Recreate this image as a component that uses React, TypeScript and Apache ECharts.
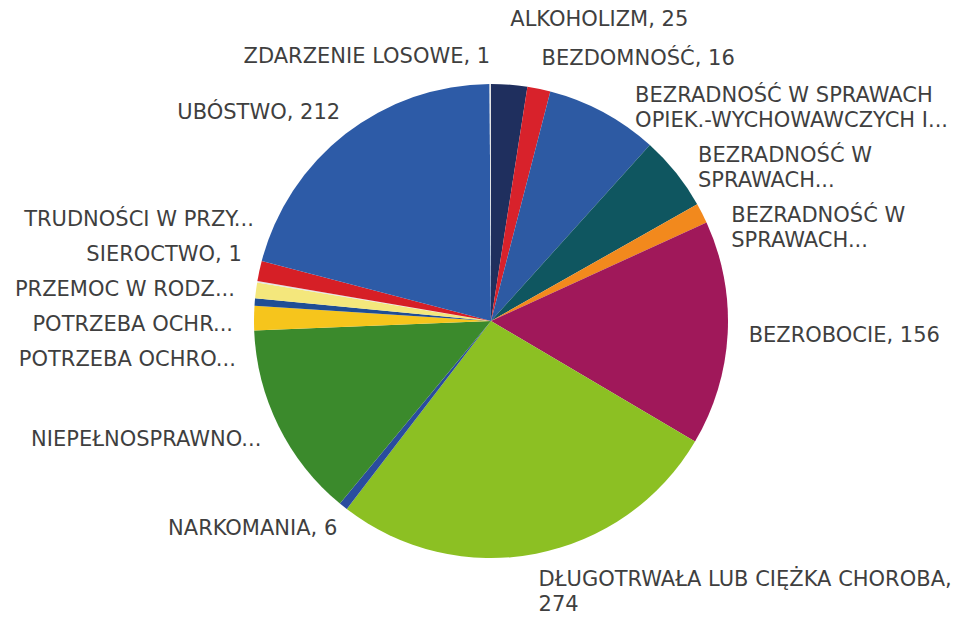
import React, { useEffect, useRef } from "react";
import * as echarts from "echarts";

const categories = [
  "ALKOHOLIZM",
  "BEZDOMNOŚĆ",
  "BEZRADNOŚĆ W SPRAWACH OPIEK.-WYCHOWAWCZYCH I...",
  "BEZRADNOŚĆ W SPRAWACH...",
  "BEZRADNOŚĆ W SPRAWACH... ",
  "BEZROBOCIE",
  "DŁUGOTRWAŁA LUB CIĘŻKA CHOROBA",
  "NARKOMANIA",
  "NIEPEŁNOSPRAWNO...",
  "POTRZEBA OCHRO...",
  "POTRZEBA OCHR...",
  "PRZEMOC W RODZ...",
  "SIEROCTWO",
  "TRUDNOŚCI W PRZY...",
  "UBÓSTWO",
  "ZDARZENIE LOSOWE",
];

const values = [25, 16, 78, 52, 14, 156, 274, 6, 136, 17, 5, 11, 1, 14, 212, 1];

// Displayed label texts (truncated labels omit the value, as in the source)
const labelTexts = [
  "ALKOHOLIZM, 25",
  "BEZDOMNOŚĆ, 16",
  "BEZRADNOŚĆ W SPRAWACH\nOPIEK.-WYCHOWAWCZYCH I...",
  "BEZRADNOŚĆ W\nSPRAWACH...",
  "BEZRADNOŚĆ W\nSPRAWACH...",
  "BEZROBOCIE, 156",
  "DŁUGOTRWAŁA LUB CIĘŻKA CHOROBA,\n274",
  "NARKOMANIA, 6",
  "NIEPEŁNOSPRAWNO...",
  "POTRZEBA OCHRO...",
  "POTRZEBA OCHR...",
  "PRZEMOC W RODZ...",
  "SIEROCTWO, 1",
  "TRUDNOŚCI W PRZY...",
  "UBÓSTWO, 212",
  "ZDARZENIE LOSOWE, 1",
];

const colors = [
  "#1f2f5e",
  "#d8222b",
  "#2d5aa3",
  "#0f5660",
  "#f2891d",
  "#a0185a",
  "#8cc023",
  "#2a4c9e",
  "#3b8a2c",
  "#f6c51c",
  "#1f4e95",
  "#f4e77c",
  "#e4e4e4",
  "#d61f26",
  "#2d5ba7",
  "#e4e4e4",
];

// geometry of the pie and its labels
const CX = 491;
const CY = 321;
const RADIUS = 237;
const LABEL_R = 265; // radial distance of label anchors
const LABEL_RX = 258; // circle along which shifted labels slide
const LABEL_R_TOP = 250; // anchor radius for labels above/below the pie
const LINE = 21; // spacing unit per text line
const GAP_RIGHT = 18;
const GAP_LEFT = 14;
const MIN_TOP = 8;
const MAX_BOTTOM = 618;

type Pos = { x: number; y: number; align: string };

function computeLabelPositions(): Pos[] {
  const total = values.reduce((a, b) => a + b, 0);
  let acc = 0;
  const items = values.map((v, i) => {
    const a = ((acc + v / 2) / total) * Math.PI * 2;
    acc += v;
    const s = Math.sin(a);
    const c = Math.cos(a);
    const h = labelTexts[i].split("\n").length * LINE;
    const side = s >= 0 ? 1 : -1;
    const gap = side > 0 ? GAP_RIGHT : GAP_LEFT;
    const desired = CY - c * LABEL_R - (c * (h - LINE)) / 2;
    return { i, s, c, h, size: h + gap, desired, side, y: desired };
  });
  for (const side of [1, -1]) {
    const list = items.filter((d) => d.side === side).sort((a, b) => a.desired - b.desired);
    type Cl = { members: typeof list; base: number; total: number };
    const clusters: Cl[] = [];
    const place = (cl: Cl) => {
      let off = 0;
      let sum = 0;
      for (const m of cl.members) {
        sum += m.desired - (off + m.size / 2);
        off += m.size;
      }
      cl.total = off;
      cl.base = sum / cl.members.length;
      const first = cl.members[0];
      const minBase = MIN_TOP - (first.size - first.h) / 2;
      if (cl.base < minBase) cl.base = minBase;
      const last = cl.members[cl.members.length - 1];
      const maxBase = MAX_BOTTOM + (last.size - last.h) / 2 - cl.total;
      if (cl.base > maxBase) cl.base = maxBase;
    };
    for (const it of list) {
      const cl: Cl = { members: [it], base: 0, total: 0 };
      place(cl);
      clusters.push(cl);
      while (clusters.length > 1) {
        const b = clusters[clusters.length - 1];
        const a = clusters[clusters.length - 2];
        if (a.base + a.total > b.base) {
          a.members = a.members.concat(b.members);
          place(a);
          clusters.pop();
        } else break;
      }
    }
    for (const cl of clusters) {
      let off = 0;
      for (const m of cl.members) {
        m.y = cl.base + off + m.size / 2;
        off += m.size;
      }
    }
  }
  const out: Pos[] = [];
  for (const it of items) {
    const dy = it.y - CY;
    let x: number;
    if (Math.abs(dy) < LABEL_RX) {
      x = CX + it.side * Math.sqrt(LABEL_RX * LABEL_RX - dy * dy);
    } else {
      x = CX + it.s * LABEL_R_TOP;
    }
    out[it.i] = { x, y: it.y, align: it.side > 0 ? "left" : "right" };
  }
  return out;
}

export default function App() {
  const ref = useRef<HTMLDivElement>(null);
  useEffect(() => {
    if (!ref.current) return;
    const chart = echarts.init(ref.current, undefined, { renderer: "svg" });
    const positions = computeLabelPositions();
    chart.setOption({
      animation: false,
      backgroundColor: "#ffffff",
      series: [
        {
          type: "pie",
          center: [CX, CY],
          radius: RADIUS,
          startAngle: 90,
          clockwise: true,
          avoidLabelOverlap: false,
          data: categories.map((name, i) => ({
            name,
            value: values[i],
            itemStyle: { color: colors[i] },
          })),
          label: {
            show: true,
            position: "outer",
            alignTo: "none",
            overflow: "none",
            formatter: (p: any) => labelTexts[p.dataIndex],
            fontFamily: "DejaVu Sans",
            fontSize: 21,
            lineHeight: 25,
            color: "#3f3f3f",
          },
          labelLine: { show: false },
          labelLayout: (p: any) => {
            const pos = positions[p.dataIndex];
            return {
              x: pos.x,
              y: pos.y,
              align: pos.align,
              verticalAlign: "middle",
            };
          },
          itemStyle: { borderWidth: 0 },
        },
      ],
    });
    return () => chart.dispose();
  }, []);
  return (
    <div
      ref={ref}
      style={{ position: "fixed", left: 0, top: 0, width: 977, height: 622 }}
    />
  );
}
